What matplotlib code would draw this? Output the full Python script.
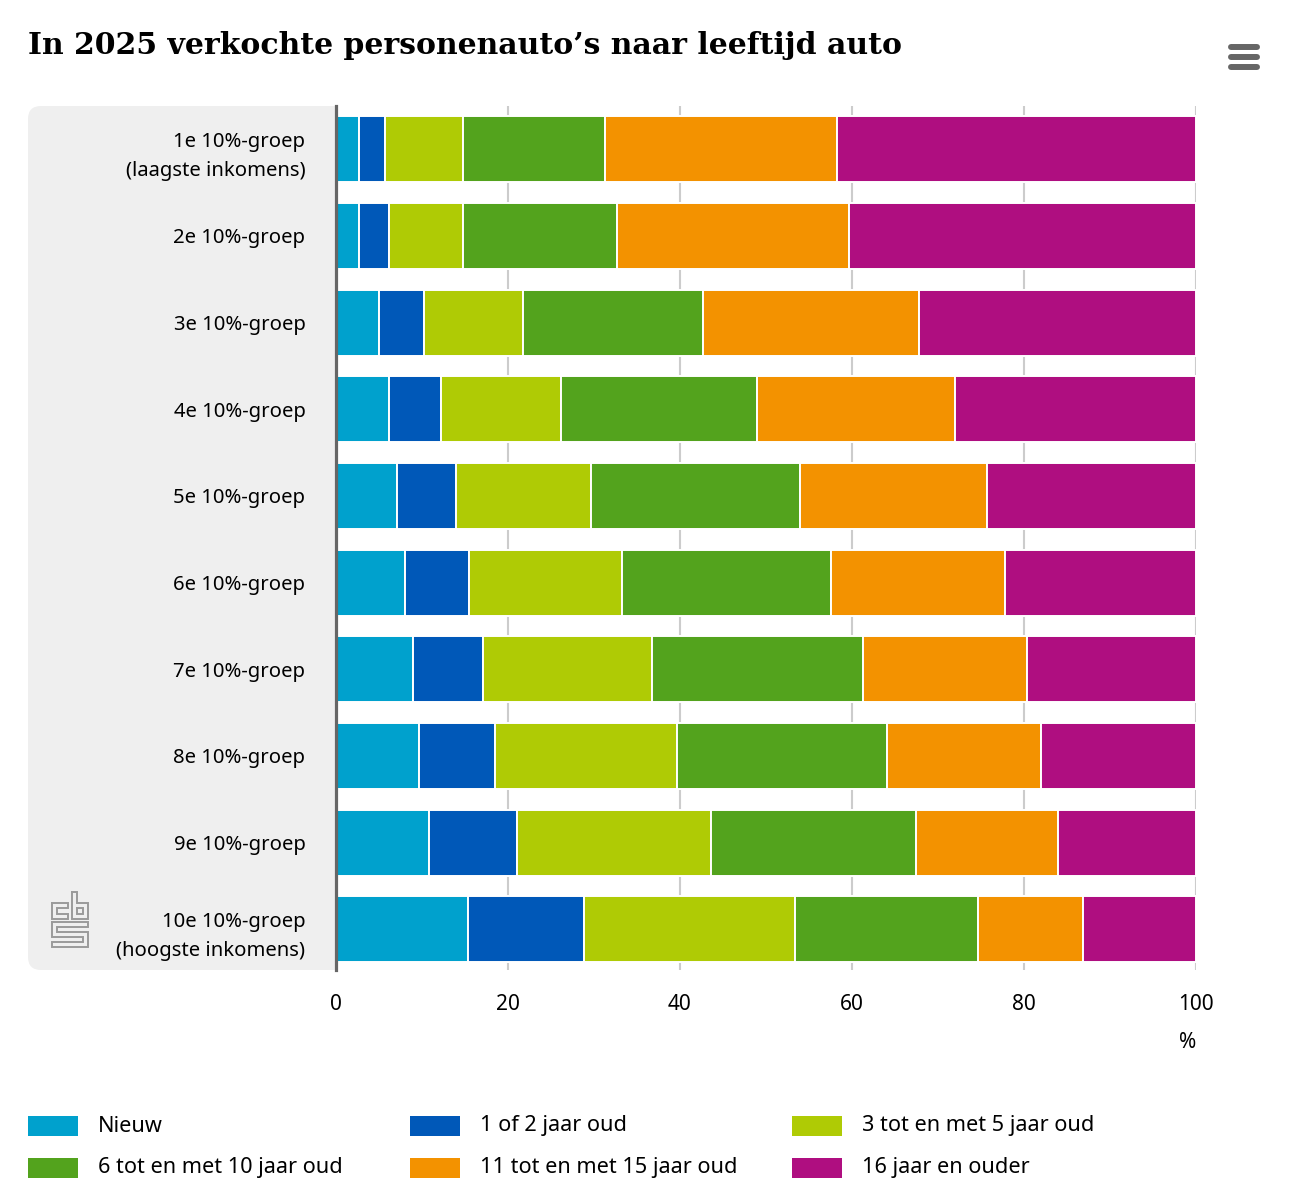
import matplotlib
matplotlib.use("Agg")
import matplotlib.pyplot as plt
from matplotlib.patches import FancyBboxPatch, Rectangle
from matplotlib.lines import Line2D
import numpy as np

# ---------------- data ----------------
groups = [
    "1e 10%-groep\n(laagste inkomens)",
    "2e 10%-groep",
    "3e 10%-groep",
    "4e 10%-groep",
    "5e 10%-groep",
    "6e 10%-groep",
    "7e 10%-groep",
    "8e 10%-groep",
    "9e 10%-groep",
    "10e 10%-groep\n(hoogste inkomens)",
]
series_names = [
    "Nieuw",
    "1 of 2 jaar oud",
    "3 tot en met 5 jaar oud",
    "6 tot en met 10 jaar oud",
    "11 tot en met 15 jaar oud",
    "16 jaar en ouder",
]
nieuw      = [2.7, 2.7, 5.0, 6.2, 7.1, 8.0, 9.0, 9.7, 10.8, 15.3]
jaar_1_2   = [3.0, 3.5, 5.2, 6.0, 6.8, 7.5, 8.1, 8.8, 10.3, 13.5]
jaar_3_5   = [9.1, 8.6, 11.6, 14.0, 15.8, 17.7, 19.6, 21.2, 22.5, 24.6]
jaar_6_10  = [16.5, 17.9, 20.9, 22.8, 24.2, 24.4, 24.6, 24.4, 23.8, 21.2]
jaar_11_15 = [27.0, 27.0, 25.1, 23.0, 21.8, 20.2, 19.1, 17.9, 16.5, 12.3]
jaar_16    = [41.7, 40.3, 32.2, 28.0, 24.3, 22.2, 19.6, 18.0, 16.1, 13.1]
xticks = [0, 20, 40, 60, 80, 100]
colors = ["#00a1cd", "#0058b8", "#afcb05", "#53a31d", "#f39200", "#af0e80"]

series = [nieuw, jaar_1_2, jaar_3_5, jaar_6_10, jaar_11_15, jaar_16]

# ---------------- figure ----------------
W, H = 1304, 1198
fig = plt.figure(figsize=(W / 100, H / 100), dpi=100)
fig.patch.set_facecolor("white")

BODY = ["Noto Sans", "DejaVu Sans"]
FS_LAB = 14.6
FS_TICK = 15.0
FS_LEG = 15.6

def fx(px):
    return px / W

def fy(py):
    return 1 - py / H

ax_l, ax_r, ax_t, ax_b = 336, 1196, 106, 970
ax = fig.add_axes([fx(ax_l), fy(ax_b), fx(ax_r) - fx(ax_l), fy(ax_t) - fy(ax_b)])
ax.set_facecolor("white")

# grey label panel behind the axes
panel = FancyBboxPatch((fx(28), fy(ax_b)), fx(380) - fx(28), fy(ax_t) - fy(ax_b),
                       boxstyle="round,pad=0,rounding_size=0.01",
                       transform=fig.transFigure, facecolor="#efefef",
                       edgecolor="none", zorder=-5, mutation_aspect=W / H)
fig.patches.append(panel)

y = np.arange(len(groups))
left = np.zeros(len(groups))
for vals, name, col in zip(series, series_names, colors):
    ax.barh(y, vals, left=left, height=0.76, color=col, edgecolor="white",
            linewidth=1.4, label=name, zorder=3)
    left += np.array(vals)

ax.set_xlim(0, 100)
ax.set_ylim(9.47, -0.5)
ax.set_xticks(xticks)
ax.set_xticklabels([str(t) for t in xticks], fontsize=FS_TICK, family=BODY, color="#000000")
ax.set_yticks(y)
ax.set_yticklabels(groups, fontsize=FS_LAB, family=BODY, color="#000000",
                   linespacing=1.6)
ax.tick_params(axis="y", length=0, pad=22)
ax.tick_params(axis="x", length=0, pad=17.5)
ax.grid(axis="x", color="#cccccc", linewidth=1.5, zorder=0)
ax.set_axisbelow(True)
for s in ["top", "right", "bottom"]:
    ax.spines[s].set_visible(False)
ax.spines["left"].set_color("#666666")
ax.spines["left"].set_linewidth(2.3)
ax.spines["left"].set_zorder(5)

# "%" unit label
fig.text(fx(1188), fy(1042), "%", fontsize=FS_TICK, family=BODY, ha="center",
         va="center", color="#000000")

# title
fig.text(fx(28), fy(45), "In 2025 verkochte personenauto\u2019s naar leeftijd auto",
         fontsize=21.5, fontweight="bold", family=["DejaVu Serif"], ha="left",
         va="center", color="#000000")

# menu icon
for yy in [47, 57, 67]:
    fig.add_artist(Line2D([fx(1231), fx(1257)], [fy(yy), fy(yy)], color="#666666",
                          linewidth=4.3, solid_capstyle="round"))

# legend (manual layout)
leg_cols = [28, 410, 792]
leg_rows = [1126, 1168]
for i, (name, col) in enumerate(zip(series_names, colors)):
    r, c = divmod(i, 3)
    x0 = leg_cols[c]
    yc = leg_rows[r]
    fig.add_artist(Rectangle((fx(x0), fy(yc + 10)), fx(50), 20 / H,
                             transform=fig.transFigure, facecolor=col,
                             edgecolor="none"))
    fig.text(fx(x0 + 70), fy(yc), name, fontsize=FS_LEG, family=BODY,
             ha="left", va="center", color="#000000")

# cbs logo (approximate line drawing, coordinates in a 150x186 grid)
logo = fig.add_axes([fx(45), fy(890 + 186 / 3), fx(50), (186 / 3) / H])
logo.set_xlim(0, 150)
logo.set_ylim(186, 0)
logo.axis("off")
lc = dict(color="#9a9a9a", linewidth=1.4, solid_joinstyle="miter")
# c
logo.plot([22, 70, 70, 37, 37, 70, 70, 22, 22],
          [40, 40, 55, 55, 72, 72, 88, 88, 40], **lc)
# b
logo.plot([80, 95, 95, 130, 130, 80, 80], [5, 5, 40, 40, 88, 88, 5], **lc)
logo.plot([95, 115, 115, 95, 95], [55, 55, 72, 72, 55], **lc)
# s
logo.plot([22, 130, 130, 37, 37, 130, 130, 22, 22, 115, 115, 22, 22],
          [95, 95, 110, 110, 125, 125, 170, 170, 155, 155, 140, 140, 95], **lc)

fig.savefig("out.png", dpi=100, facecolor="white")
